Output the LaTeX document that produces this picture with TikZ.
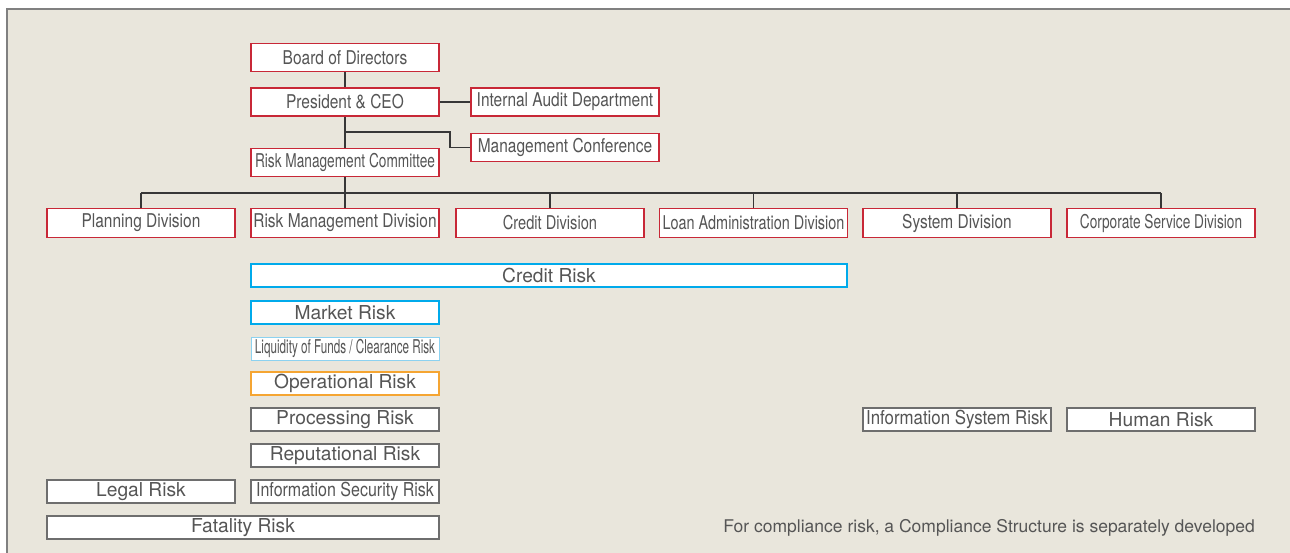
\documentclass[tikz,border=0pt]{standalone}
\usepackage{fontspec}
\setmainfont{TeX Gyre Heros}
\newfontfamily\condA[FakeStretch=0.815]{TeX Gyre Heros}
\newfontfamily\condRMC[FakeStretch=0.72]{TeX Gyre Heros}
\newfontfamily\condCD[FakeStretch=0.77]{TeX Gyre Heros}
\newfontfamily\condLoan[FakeStretch=0.76]{TeX Gyre Heros}
\newfontfamily\condCorp[FakeStretch=0.72]{TeX Gyre Heros}
\newfontfamily\condLiq[FakeStretch=0.615]{TeX Gyre Heros}
\newfontfamily\condSec[FakeStretch=0.834]{TeX Gyre Heros}
\newfontfamily\condSys[FakeStretch=0.877]{TeX Gyre Heros}
\definecolor{bgbeige}{RGB}{233,230,220}
\definecolor{framegray}{RGB}{128,128,128}
\definecolor{boxred}{RGB}{200,40,55}
\definecolor{boxblue}{RGB}{0,170,235}
\definecolor{boxlblue}{RGB}{140,210,240}
\definecolor{boxorange}{RGB}{245,165,50}
\definecolor{boxgray}{RGB}{110,110,110}
\definecolor{txtgray}{RGB}{85,85,85}
\definecolor{linegray}{RGB}{55,55,55}
\newcommand\osz{\fontsize{19}{21}\selectfont}
\newcommand\rsz{\fontsize{19.2}{21}\selectfont}
\tikzset{
  org/.style={draw=boxred, fill=white, line width=1.6pt, minimum width=188pt, minimum height=28pt, inner sep=0pt,
    text=txtgray, font=\condA\osz},
  risk/.style={draw=boxgray, fill=white, line width=1.6pt, minimum width=188pt, minimum height=23pt, inner sep=0pt,
    text=txtgray, font=\rsz},
  conn/.style={draw=linegray, line width=1.3pt},
}
\begin{document}
\begin{tikzpicture}[x=1pt,y=-1pt]
\useasboundingbox (0,0) rectangle (1290,553);
\fill[white] (0,0) rectangle (1290,553);
\fill[bgbeige] (7,9) rectangle (1290,553);
\draw[framegray, line width=2pt] (7,553) -- (7,9) -- (1290,9);

% top hierarchy
\node[org] (board) at (345,57.5) {Board of Directors};
\node[org] (ceo) at (345,102) {President \& CEO};
\node[org] (audit) at (565,102) {Internal Audit Department};
\node[org] (conf) at (565,147.5) {Management Conference};
\node[org, font=\condRMC\osz] (rmc) at (345,162.5) {Risk Management Committee};

% divisions
\node[org, minimum height=29pt] (planning) at (141,223) {Planning Division};
\node[org, minimum height=29pt] (rmd) at (345,223) {Risk Management Division};
\node[org, minimum height=29pt, font=\condCD\osz] (credit) at (550,223) {Credit Division};
\node[org, minimum height=29pt, font=\condLoan\osz] (loan) at (753.5,223) {Loan Administration Division};
\node[org, minimum height=29pt] (system) at (957,223) {System Division};
\node[org, minimum height=29pt, font=\condCorp\osz] (corp) at (1161,223) {Corporate Service Division};

% connectors
\draw[conn] (board.south) -- (ceo.north);
\draw[conn, line width=2.6pt] (ceo.east) -- (audit.west);
\draw[conn] (ceo.south) -- (rmc.north);
\coordinate (j1) at (345,132);
\draw[conn] (j1) -- ++(105,0) |- (conf.west);
\coordinate (bus) at (345,193);
\draw[conn] (rmc.south) -- (bus);
\draw[conn] (planning.north |- bus) -- (corp.north |- bus);
\foreach \d in {planning,rmd,credit,loan,system,corp}
  \draw[conn] (\d.north) -- (\d.north |- bus);

% risks
\node[risk, draw=boxblue, minimum width=596pt] (creditrisk) at (549,275.5) {Credit Risk};
\node[risk, draw=boxblue] (market) at (345,312.5) {Market Risk};
\node[risk, draw=boxlblue, line width=0.8pt, font=\condLiq\osz] (liquidity) at (345,348.5) {Liquidity of Funds / Clearance Risk};
\node[risk, draw=boxorange] (operational) at (345,383.5) {Operational Risk};
\node[risk] (processing) at (345,419.5) {Processing Risk};
\node[risk] (reputational) at (345,455.5) {Reputational Risk};
\node[risk, font=\condSec\rsz] (infosec) at (345,491.5) {Information Security Risk};
\node[risk] (legal) at (141,491.5) {Legal Risk};
\node[risk, minimum width=392pt] (fatality) at (243,527.5) {Fatality Risk};
\node[risk, font=\condSys\rsz] (infosys) at (957,419.5) {Information System Risk};
\node[risk] (human) at (1161,419.5) {Human Risk};

\node[anchor=east, text=txtgray, font=\fontsize{17.5}{19}\selectfont, inner sep=0pt] (note) at (1255,528) {For compliance risk, a Compliance Structure is separately developed};
\end{tikzpicture}
\end{document}
